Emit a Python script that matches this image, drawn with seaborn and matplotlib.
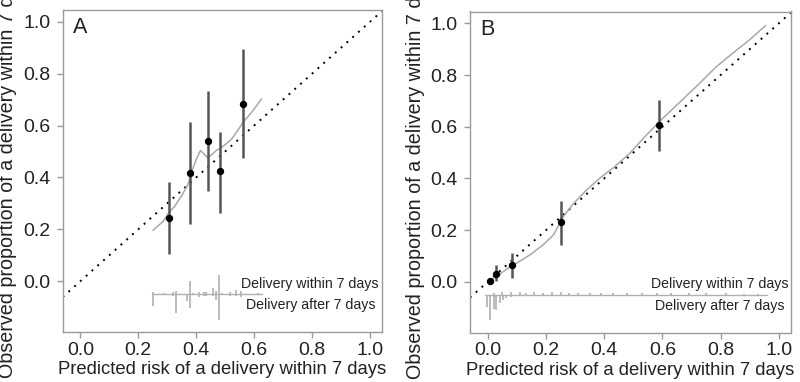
import numpy as np
import pandas as pd
import matplotlib
matplotlib.use("Agg")
import matplotlib.pyplot as plt
import seaborn as sns

# =========================
# DATA
# =========================
# panel A - grouped observed proportions
a_pred = [0.305, 0.380, 0.440, 0.483, 0.563]
a_obs = [0.244, 0.419, 0.540, 0.424, 0.685]
a_lo = [0.103, 0.219, 0.347, 0.264, 0.476]
a_hi = [0.383, 0.615, 0.732, 0.577, 0.894]

# panel A - smoothed calibration curve
a_smooth_x = [0.251, 0.286, 0.305, 0.326, 0.349, 0.372, 0.383, 0.400, 0.415, 0.426,
              0.440, 0.458, 0.469, 0.483, 0.504, 0.521, 0.538, 0.561, 0.595, 0.626]
a_smooth_y = [0.196, 0.231, 0.264, 0.289, 0.328, 0.373, 0.418, 0.469, 0.504, 0.492,
              0.476, 0.492, 0.504, 0.512, 0.530, 0.546, 0.572, 0.611, 0.656, 0.703]

# panel A - spike histogram (within 7 days up, after 7 days down)
a_rug_x = [0.250, 0.289, 0.320, 0.329, 0.369, 0.380, 0.389, 0.409, 0.427,
           0.435, 0.458, 0.467, 0.478, 0.490, 0.517, 0.538, 0.555, 0.612]
a_rug_up = [0.010, 0.003, 0.008, 0.014, 0.0, 0.049, 0.003, 0.007, 0.008,
            0.008, 0.023, 0.013, 0.074, 0.003, 0.008, 0.017, 0.014, 0.006]
a_rug_down = [0.045, 0.003, 0.008, 0.073, 0.028, 0.054, 0.003, 0.012, 0.007,
              0.007, 0.009, 0.022, 0.099, 0.003, 0.007, 0.009, 0.012, 0.004]
a_rug_range = [0.248, 0.626]

# panel B
b_pred = [0.009, 0.029, 0.085, 0.252, 0.587]
b_obs = [0.002, 0.032, 0.066, 0.230, 0.608]
b_lo = [0.000, 0.002, 0.015, 0.144, 0.508]
b_hi = [0.008, 0.067, 0.112, 0.311, 0.703]

b_smooth_x = [0.000, 0.032, 0.066, 0.100, 0.146, 0.191, 0.226, 0.260, 0.294, 0.340, 0.385,
              0.430, 0.488, 0.545, 0.601, 0.670, 0.727, 0.784, 0.840, 0.897, 0.955]
b_smooth_y = [-0.001, 0.022, 0.050, 0.073, 0.105, 0.144, 0.182, 0.253, 0.302, 0.356, 0.401,
              0.440, 0.497, 0.568, 0.632, 0.706, 0.767, 0.831, 0.883, 0.934, 0.992]

b_rug_down_x = [-0.002, 0.009, 0.021, 0.030, 0.041, 0.053, 0.064, 0.080, 0.100, 0.120,
                0.140, 0.160, 0.180, 0.200, 0.220, 0.240, 0.270, 0.300, 0.330, 0.360,
                0.400, 0.450, 0.500, 0.580, 0.660, 0.750]
b_rug_down = [0.049, 0.097, 0.054, 0.058, 0.031, 0.019, 0.012, 0.008, 0.006, 0.005,
              0.006, 0.005, 0.004, 0.005, 0.004, 0.004, 0.004, 0.003, 0.003, 0.003,
              0.003, 0.002, 0.002, 0.002, 0.002, 0.002]
b_rug_up_x = [0.020, 0.050, 0.080, 0.110, 0.130, 0.160, 0.190, 0.220, 0.250, 0.280,
              0.310, 0.350, 0.390, 0.430, 0.480, 0.530, 0.580, 0.630, 0.690, 0.750,
              0.820, 0.880, 0.930]
b_rug_up = [0.006, 0.010, 0.012, 0.010, 0.008, 0.010, 0.008, 0.010, 0.012, 0.008,
            0.006, 0.006, 0.008, 0.006, 0.006, 0.006, 0.006, 0.005, 0.005, 0.005,
            0.005, 0.004, 0.004]
b_rug_range = [-0.011, 0.958]

ticks = [0.0, 0.2, 0.4, 0.6, 0.8, 1.0]
tick_labels = ["0.0", "0.2", "0.4", "0.6", "0.8", "1.0"]
rug_y = -0.05

# =========================
# STYLE
# =========================
sns.set_style("white")
plt.rcParams["font.family"] = ["Liberation Sans", "DejaVu Sans"]
TXT = "#222222"
SPINE = "#9a9a9a"
RUG = "#b0b0b0"

fig = plt.figure(figsize=(8, 3.82), dpi=100)
ax_a = fig.add_axes([62.7 / 800, 1 - 332 / 382, 319 / 800, 322 / 382])
ax_b = fig.add_axes([470 / 800, 1 - 332.5 / 382, 320.7 / 800, 321 / 382])


def draw_panel(ax, letter, pred, obs, lo, hi, sx, sy,
               up_x, up_h, down_x, down_h, rug_range, lab_x):
    # ideal line
    ax.axline((0, 0), slope=1, color="black", linestyle=(0, (1, 3)), lw=1.4, zorder=1)

    # smooth curve
    sm = pd.DataFrame({"x": sx, "y": sy})
    sns.lineplot(data=sm, x="x", y="y", ax=ax, color="#a8a8a8", lw=1.1,
                 sort=False, estimator=None, zorder=2)

    # spike histogram
    ax.plot(rug_range, [rug_y, rug_y], color=RUG, lw=1.0, zorder=2)
    ax.vlines(up_x, rug_y, rug_y + np.array(up_h), color=RUG, lw=1.2, zorder=2)
    ax.vlines(down_x, rug_y - np.array(down_h), rug_y, color=RUG, lw=1.2, zorder=2)

    # grouped observations with CI
    ax.vlines(pred, lo, hi, color="#555555", lw=1.8, zorder=3)
    pts = pd.DataFrame({"x": pred, "y": obs})
    sns.scatterplot(data=pts, x="x", y="y", ax=ax, color="black", s=28,
                    edgecolor="black", linewidth=0, zorder=4)

    ax.text(lab_x[0], -0.009, "Delivery within 7 days", ha="right", va="center",
            fontsize=10.2, color=TXT)
    ax.text(lab_x[1], -0.093, "Delivery after 7 days", ha="right", va="center",
            fontsize=10.2, color=TXT)
    ax.text(-0.026, 1.018, letter, ha="left", va="top", fontsize=15.5, color=TXT)

    ax.set_xlim(-0.061, 1.041)
    ax.set_ylim(-0.196, 1.046)
    ax.set_xticks(ticks)
    ax.set_xticklabels(tick_labels)
    ax.set_yticks(ticks)
    ax.set_yticklabels(tick_labels)
    ax.tick_params(axis="both", direction="out", length=4, width=1, color=SPINE,
                   labelsize=14, labelcolor=TXT, pad=3, bottom=True, left=True)
    ax.tick_params(axis="y", pad=5)
    for s in ax.spines.values():
        s.set_color(SPINE)
        s.set_linewidth(1.0)
    ax.set_xlabel("Predicted risk of a delivery within 7 days", fontsize=13.3, color=TXT,
                  labelpad=2)
    # long label runs past the top edge, as in the original figure
    ax.set_ylabel("Observed proportion of a delivery within 7 days", fontsize=14.2,
                  color=TXT, labelpad=4)


draw_panel(ax_a, "A", a_pred, a_obs, a_lo, a_hi, a_smooth_x, a_smooth_y,
           a_rug_x, a_rug_up, a_rug_x, a_rug_down, a_rug_range, (1.031, 1.018))
draw_panel(ax_b, "B", b_pred, b_obs, b_lo, b_hi, b_smooth_x, b_smooth_y,
           b_rug_up_x, b_rug_up, b_rug_down_x, b_rug_down, b_rug_range, (1.032, 1.019))

plt.savefig("out.png", dpi=100)
